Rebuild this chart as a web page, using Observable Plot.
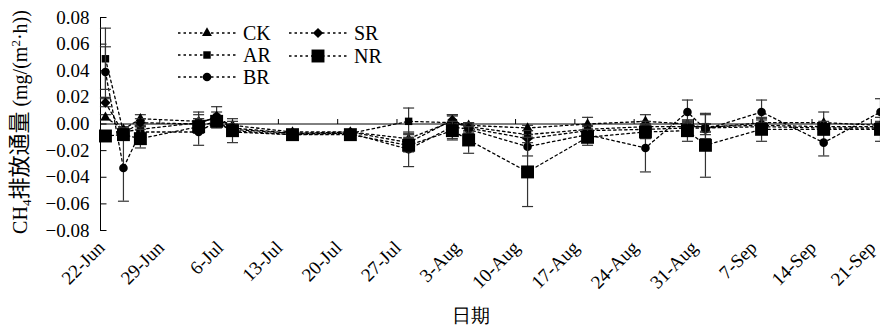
<!DOCTYPE html>
<html>
<head>
<meta charset="utf-8">
<script src="https://cdn.jsdelivr.net/npm/d3@7"></script>
<script src="https://cdn.jsdelivr.net/npm/@observablehq/plot@0.6"></script>
<style>
  html, body { margin: 0; padding: 0; background: #fff; }
  #chart svg { display: block; overflow: visible; font-family: "Liberation Serif", "Times New Roman", serif; }
  #chart svg text, #chart svg tspan { font-family: "Liberation Serif", "Times New Roman", serif; }
  #chart svg .cjk { font-family: "Noto Sans CJK SC", sans-serif; }
</style>
</head>
<body>
<div id="chart"></div>
<script>
// ---- data ----
const sampleDates = [
  "2015-06-22T14:00Z", "2015-06-24T17:00Z", "2015-06-26T17:00Z", "2015-07-03T14:00Z",
  "2015-07-05T17:00Z", "2015-07-07T14:00Z", "2015-07-14T16:00Z", "2015-07-21T12:00Z",
  "2015-07-28T09:00Z", "2015-08-02T13:00Z", "2015-08-04T11:00Z", "2015-08-11T10:00Z",
  "2015-08-18T12:00Z", "2015-08-25T08:00Z", "2015-08-30T07:00Z", "2015-09-01T10:00Z",
  "2015-09-08T01:00Z", "2015-09-15T09:00Z", "2015-09-22T02:00Z"
];
const seriesNames = ["CK", "AR", "BR", "SR", "NR"];
const CK     = [0.005, -0.004, 0.004, 0.002, 0.004, -0.001, -0.006, -0.006, -0.011, 0.002, -0.001, -0.003, 0.000, 0.002, 0.000, -0.003, 0.001, 0.001, -0.001];
const CK_err = [0.002, 0.002, 0.003, 0.005, 0.002, 0.005, 0.001, 0.001, 0.004, 0.005, 0.002, 0.002, 0.005, 0.005, 0.003, 0.003, 0.003, 0.008, 0.003];
const AR     = [0.049, -0.006, -0.004, 0.001, 0.005, -0.004, -0.007, -0.007, 0.002, 0.001, -0.002, -0.008, -0.004, -0.002, -0.002, -0.002, -0.001, -0.002, -0.002];
const AR_err = [0.023, 0.003, 0.003, 0.008, 0.008, 0.003, 0.001, 0.001, 0.010, 0.006, 0.003, 0.003, 0.003, 0.004, 0.004, 0.009, 0.004, 0.004, 0.003];
const BR     = [0.039, -0.033, -0.006, -0.006, 0.002, -0.006, -0.008, -0.007, -0.019, -0.002, -0.004, -0.017, -0.008, -0.018, 0.009, -0.004, 0.009, -0.014, 0.009];
const BR_err = [0.019, 0.025, 0.004, 0.010, 0.003, 0.008, 0.001, 0.001, 0.013, 0.009, 0.003, 0.007, 0.004, 0.018, 0.009, 0.004, 0.009, 0.010, 0.010];
const SR     = [0.016, -0.007, 0.001, 0.000, 0.006, -0.003, -0.007, -0.006, -0.014, 0.003, -0.003, -0.011, -0.005, -0.004, -0.003, -0.003, -0.002, -0.003, -0.003];
const SR_err = [0.003, 0.004, 0.003, 0.004, 0.003, 0.003, 0.001, 0.001, 0.004, 0.003, 0.003, 0.003, 0.003, 0.004, 0.004, 0.003, 0.003, 0.003, 0.003];
const NR     = [-0.009, -0.008, -0.011, -0.002, 0.002, -0.005, -0.008, -0.008, -0.016, -0.005, -0.012, -0.036, -0.010, -0.006, -0.005, -0.016, -0.004, -0.004, -0.004];
const NR_err = [0.002, 0.004, 0.007, 0.004, 0.003, 0.003, 0.001, 0.001, 0.005, 0.007, 0.010, 0.026, 0.006, 0.005, 0.008, 0.024, 0.009, 0.004, 0.009];
const xTickDates = ["2015-06-22", "2015-06-29", "2015-07-06", "2015-07-13", "2015-07-20", "2015-07-27",
  "2015-08-03", "2015-08-10", "2015-08-17", "2015-08-24", "2015-08-31", "2015-09-07", "2015-09-14", "2015-09-21"];
const xTickLabels = ["22-Jun", "29-Jun", "6-Jul", "13-Jul", "20-Jul", "27-Jul", "3-Aug", "10-Aug",
  "17-Aug", "24-Aug", "31-Aug", "7-Sep", "14-Sep", "21-Sep"];
const yTicks = [0.08, 0.06, 0.04, 0.02, 0.00, -0.02, -0.04, -0.06, -0.08];
const xDomain = ["2015-06-22T00:00Z", "2015-09-22T02:00Z"];
const yDomain = [-0.08, 0.08];
const xTitle = "日期";

// ---- build table ----
const values = {CK, AR, BR, SR, NR};
const errors = {CK: CK_err, AR: AR_err, BR: BR_err, SR: SR_err, NR: NR_err};
const rows = [];
for (const s of seriesNames) {
  sampleDates.forEach((d, i) => rows.push({series: s, date: d3.isoParse(d), v: values[s][i], e: errors[s][i]}));
}
const tickDates = xTickDates.map(d => d3.isoParse(d + "T00:00Z"));
const labelMap = new Map(tickDates.map((d, i) => [+d, xTickLabels[i]]));

const style = {
  CK: {symbol: "triangle", r: 3.7},
  AR: {symbol: "square", r: 4.2},
  BR: {symbol: "circle", r: 4.3},
  SR: {symbol: "diamond2", r: 4.6},
  NR: {symbol: "square", r: 7.3}
};

const capSymbol = {draw(ctx) { ctx.moveTo(-5.5, 0); ctx.lineTo(5.5, 0); }};
const yTickSymbol = {draw(ctx) { ctx.moveTo(0, 0); ctx.lineTo(6, 0); }};
const xTickSymbol = {draw(ctx) { ctx.moveTo(0, 0); ctx.lineTo(0, -5); }};

const marks = [
  Plot.ruleY([0], {stroke: "#000", strokeWidth: 1}),
  Plot.frame({anchor: "left", stroke: "#000", strokeWidth: 1}),
  Plot.dot(yTicks, {y: d => d, frameAnchor: "left", symbol: yTickSymbol, stroke: "#000", fill: "none", strokeWidth: 1}),
  Plot.dot(tickDates, {x: d => d, y: () => 0, symbol: xTickSymbol, stroke: "#000", fill: "none", strokeWidth: 1}),
  Plot.axisY({ticks: yTicks, tickFormat: d3.format(".2f"), tickSize: 0, tickPadding: 11, fontSize: 19, label: null}),
  Plot.axisX({ticks: tickDates, tickFormat: d => labelMap.get(+d), tickRotate: -45, tickSize: 0, tickPadding: 14, fontSize: 19, label: null, dx: 1}),
  Plot.text([xTitle], {text: d => d, frameAnchor: "bottom", dx: -20, dy: 91, fontSize: 19, className: "cjk"}),
  Plot.line(rows, {x: "date", y: "v", z: "series", stroke: "#000", strokeWidth: 1.3, strokeDasharray: "2.5,3"})
];
for (const s of seriesNames) {
  const data = rows.filter(r => r.series === s);
  marks.push(
    Plot.ruleX(data, {x: "date", y1: d => d.v - d.e, y2: d => d.v + d.e, stroke: "#333", strokeWidth: 1.2}),
    Plot.dot(data, {x: "date", y: d => d.v - d.e, symbol: capSymbol, stroke: "#333", fill: "none", strokeWidth: 1.2}),
    Plot.dot(data, {x: "date", y: d => d.v + d.e, symbol: capSymbol, stroke: "#333", fill: "none", strokeWidth: 1.2}),
    Plot.dot(data, {x: "date", y: "v", symbol: style[s].symbol, r: style[s].r, fill: "#000", stroke: "none"})
  );
}

const svg = Plot.plot({
  width: 880,
  height: 328,
  marginLeft: 100,
  marginRight: 0,
  marginTop: 17,
  marginBottom: 98,
  style: {fontSize: "19px", color: "#000", background: "#fff"},
  x: {type: "utc", domain: xDomain.map(d => d3.isoParse(d))},
  y: {domain: yDomain},
  marks
});

// ---- y axis title with sub/superscripts ----
const sel = d3.select(svg);
const yt = sel.append("text")
  .attr("transform", "translate(27,122) rotate(-90)")
  .attr("text-anchor", "middle")
  .attr("font-size", 20)
  .attr("fill", "#000");
yt.append("tspan").text("CH");
yt.append("tspan").attr("font-size", 13).attr("dy", 4).text("4");
yt.append("tspan").attr("class", "cjk").attr("font-size", 22).attr("dy", -4).text("排放通量");
yt.append("tspan").text(" (mg/(m");
yt.append("tspan").attr("font-size", 13).attr("dy", -7).text("2");
yt.append("tspan").attr("dy", 7).text("·h))");

// ---- legend ----
const legendItems = [
  {s: "CK", x: 178, y: 33}, {s: "AR", x: 178, y: 55}, {s: "BR", x: 178, y: 77},
  {s: "SR", x: 289, y: 33}, {s: "NR", x: 289, y: 56}
];
const symMap = {triangle: d3.symbolTriangle, square: d3.symbolSquare, circle: d3.symbolCircle, diamond2: d3.symbolDiamond2};
const lg = sel.append("g");
for (const it of legendItems) {
  const st = style[it.s];
  lg.append("line").attr("x1", it.x).attr("x2", it.x + 58).attr("y1", it.y).attr("y2", it.y)
    .attr("stroke", "#000").attr("stroke-width", 1.3).attr("stroke-dasharray", "2.5,3");
  lg.append("path").attr("transform", `translate(${it.x + 29},${it.y})`)
    .attr("d", d3.symbol(symMap[st.symbol], Math.PI * st.r * st.r)()).attr("fill", "#000");
  lg.append("text").attr("x", it.x + 65).attr("y", it.y).attr("dy", "0.35em")
    .attr("text-anchor", "start")
    .attr("font-size", 20).attr("fill", "#000").text(it.s);
}

document.getElementById("chart").appendChild(svg);
</script>
</body>
</html>
